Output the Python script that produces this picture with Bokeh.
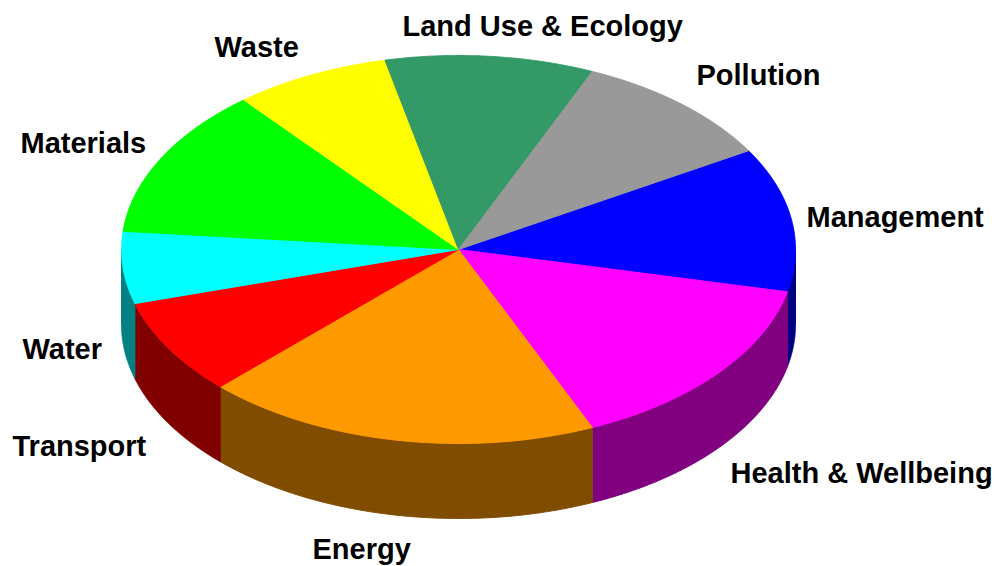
import numpy as np
from bokeh.plotting import figure
from bokeh.models import Range1d, ColumnDataSource
from bokeh.core.properties import value
from bokeh.embed import file_html
from bokeh.resources import INLINE

# ---- data ----
categories = ["Management", "Health & Wellbeing", "Energy", "Transport", "Water",
              "Materials", "Waste", "Land Use & Ecology", "Pollution"]
weights = [12, 15, 19, 8, 6, 12.5, 7.5, 10, 10]
colors = ["#0000FF", "#FF00FF", "#FF9900", "#FF0000", "#00FFFF",
          "#00FF00", "#FFFF00", "#339966", "#999999"]

# ---- layout (screen pixel units) ----
W, H = 994, 566
CX, CY, RX, RY, DEPTH = 458, 249, 337, 194, 75
START = 30.6  # degrees, slices go clockwise
TEXT_DY = -10
label_anchor = {  # left x, baseline y
    "Management": (806, 226),
    "Health & Wellbeing": (730, 482),
    "Energy": (312, 558),
    "Transport": (12, 455),
    "Water": (22, 358),
    "Materials": (20, 152),
    "Waste": (214, 56),
    "Land Use & Ecology": (402, 35),
    "Pollution": (696, 84),
}


def darker(hexcol, f=0.5):
    r, g, b = (int(hexcol[i:i + 2], 16) for i in (1, 3, 5))
    return "#%02x%02x%02x" % (int(round(r * f)), int(round(g * f)), int(round(b * f)))


def arc(t1, t2, n=200):
    t = np.radians(np.linspace(t1, t2, n))
    return CX + RX * np.cos(t), CY - RY * np.sin(t)


total = float(sum(weights))
spans = [w / total * 360.0 for w in weights]
starts = START - np.concatenate([[0], np.cumsum(spans)[:-1]])
ends = starts - np.array(spans)

top_xs, top_ys, top_c = [], [], []
side_xs, side_ys, side_c = [], [], []
for s, e, col in zip(starts, ends, colors):
    ax, ay = arc(s, e)
    top_xs.append([CX] + list(ax))
    top_ys.append([CY] + list(ay))
    top_c.append(col)
    lo, hi = e, s
    for k in range(-2, 3):
        flo, fhi = 180 + 360 * k, 360 + 360 * k
        a, b = max(lo, flo), min(hi, fhi)
        if b > a:
            sx, sy = arc(a, b)
            side_xs.append(list(sx) + list(sx[::-1]))
            side_ys.append(list(sy) + list((sy + DEPTH)[::-1]))
            side_c.append(darker(col))

p = figure(width=W, height=H, output_backend="svg", toolbar_location=None,
           x_range=Range1d(0, W), y_range=Range1d(H, 0),
           min_border=0, outline_line_color=None, background_fill_color="white")
p.axis.visible = False
p.grid.visible = False

p.patches("xs", "ys", source=ColumnDataSource(dict(xs=side_xs, ys=side_ys, c=side_c)),
          fill_color="c", line_color="c", line_width=1)
p.patches("xs", "ys", source=ColumnDataSource(dict(xs=top_xs, ys=top_ys, c=top_c)),
          fill_color="c", line_color="c", line_width=1)

lx = [label_anchor[c][0] for c in categories]
ly = [label_anchor[c][1] + TEXT_DY for c in categories]
p.text(lx, ly, text=categories, text_font=value("Liberation Sans"),
       text_font_style="bold", text_font_size=value("29px"),
       text_align="left", text_baseline="alphabetic", text_color="black")

open("out.html", "w").write(file_html(p, INLINE))
